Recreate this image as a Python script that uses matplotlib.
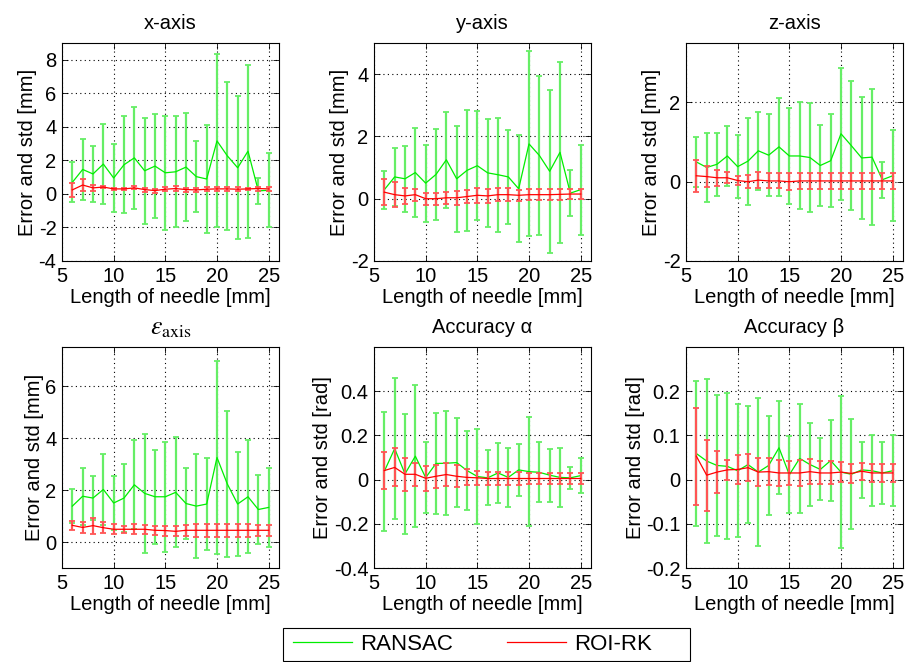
import matplotlib
matplotlib.use("Agg")
import matplotlib.pyplot as plt
from matplotlib.lines import Line2D
from matplotlib.patches import Rectangle

plt.rcParams['font.family'] = ['Liberation Sans', 'DejaVu Sans']
plt.rcParams['mathtext.fontset'] = 'stix'

needle_len = [6, 7, 8, 9, 10, 11, 12, 13, 14, 15, 16, 17, 18, 19, 20, 21, 22, 23, 24, 25]

# x-axis [mm]
x_ransac_mean = [0.69, 1.46, 1.19, 1.78, 0.95, 1.74, 2.15, 1.38, 1.66, 1.26, 1.32, 1.60, 1.03, 0.89, 3.16, 2.27, 1.56, 2.55, 0.18, 0.22]
x_ransac_std = [1.20, 1.80, 1.67, 2.36, 2.00, 2.88, 3.03, 3.17, 3.11, 3.40, 3.30, 3.21, 2.13, 3.23, 5.16, 4.40, 4.27, 5.16, 0.77, 2.21]
x_roi_mean = [0.24, 0.53, 0.36, 0.41, 0.30, 0.30, 0.36, 0.26, 0.20, 0.28, 0.32, 0.26, 0.24, 0.28, 0.30, 0.30, 0.28, 0.30, 0.32, 0.30]
x_roi_std = [0.40, 0.35, 0.17, 0.05, 0.04, 0.08, 0.09, 0.12, 0.12, 0.11, 0.13, 0.12, 0.11, 0.11, 0.13, 0.13, 0.12, 0.08, 0.12, 0.14]

# y-axis [mm]
y_ransac_mean = [0.29, 0.70, 0.64, 0.84, 0.50, 0.78, 1.25, 0.64, 0.91, 1.06, 0.83, 0.77, 0.70, 0.32, 1.76, 1.39, 0.88, 1.49, 0.18, 0.29]
y_ransac_std = [0.61, 0.94, 1.06, 1.43, 1.24, 1.46, 1.54, 1.71, 1.94, 1.75, 1.73, 1.83, 1.52, 1.72, 2.97, 2.54, 2.61, 2.90, 0.73, 1.44]
y_roi_mean = [0.21, 0.13, 0.09, 0.13, 0.00, 0.00, 0.03, 0.03, 0.07, 0.11, 0.09, 0.13, 0.13, 0.11, 0.13, 0.13, 0.13, 0.14, 0.15, 0.15]
y_roi_std = [0.42, 0.40, 0.25, 0.19, 0.19, 0.19, 0.19, 0.22, 0.22, 0.25, 0.23, 0.21, 0.20, 0.17, 0.17, 0.17, 0.17, 0.17, 0.17, 0.17]

# z-axis [mm]
z_ransac_mean = [0.50, 0.36, 0.44, 0.65, 0.38, 0.52, 0.78, 0.67, 0.88, 0.65, 0.65, 0.61, 0.41, 0.53, 1.21, 0.91, 0.60, 0.62, 0.05, 0.15]
z_ransac_std = [0.64, 0.86, 0.80, 0.76, 0.80, 1.10, 0.98, 1.04, 1.23, 1.22, 1.35, 1.37, 1.02, 1.17, 1.67, 1.63, 1.55, 1.72, 0.45, 1.15]
z_roi_mean = [0.15, 0.13, 0.10, 0.10, 0.03, 0.00, 0.04, 0.02, 0.02, 0.00, 0.02, 0.02, 0.02, 0.02, 0.02, 0.02, 0.02, 0.02, 0.02, 0.02]
z_roi_std = [0.40, 0.27, 0.20, 0.14, 0.11, 0.17, 0.20, 0.19, 0.19, 0.21, 0.20, 0.20, 0.20, 0.20, 0.20, 0.20, 0.20, 0.20, 0.20, 0.20]

# epsilon_axis [mm]
e_ransac_mean = [1.38, 1.76, 1.69, 2.02, 1.50, 1.69, 2.20, 1.87, 1.74, 1.74, 1.91, 1.48, 1.38, 1.46, 3.25, 2.23, 1.46, 1.74, 1.25, 1.33]
e_ransac_std = [0.65, 1.09, 0.85, 1.36, 1.05, 1.31, 1.71, 2.30, 1.81, 2.11, 2.11, 1.38, 1.99, 1.78, 3.71, 2.80, 2.00, 2.18, 1.33, 1.51]
e_roi_mean = [0.64, 0.56, 0.63, 0.55, 0.49, 0.49, 0.49, 0.49, 0.45, 0.44, 0.41, 0.45, 0.45, 0.45, 0.45, 0.45, 0.45, 0.45, 0.45, 0.45]
e_roi_std = [0.17, 0.22, 0.31, 0.22, 0.19, 0.14, 0.20, 0.18, 0.17, 0.19, 0.19, 0.21, 0.24, 0.24, 0.24, 0.24, 0.24, 0.24, 0.21, 0.21]

# Accuracy alpha [rad]
a_ransac_mean = [0.038, 0.140, 0.026, 0.106, 0.009, 0.073, 0.074, 0.077, 0.041, 0.014, 0.008, 0.030, 0.010, 0.044, 0.036, 0.033, 0.020, 0.010, 0.008, 0.018]
a_ransac_std = [0.270, 0.320, 0.270, 0.320, 0.160, 0.230, 0.235, 0.200, 0.180, 0.216, 0.125, 0.134, 0.133, 0.118, 0.245, 0.136, 0.120, 0.134, 0.050, 0.080]
a_roi_mean = [0.041, 0.055, 0.024, 0.024, 0.006, 0.015, 0.023, 0.015, 0.010, 0.008, 0.005, 0.005, 0.005, 0.005, 0.005, 0.005, 0.005, 0.005, 0.005, 0.005]
a_roi_std = [0.082, 0.086, 0.075, 0.052, 0.057, 0.052, 0.050, 0.050, 0.036, 0.033, 0.030, 0.030, 0.028, 0.028, 0.027, 0.027, 0.027, 0.027, 0.027, 0.027]

# Accuracy beta [rad]
b_ransac_mean = [0.059, 0.042, 0.032, 0.030, 0.020, 0.034, 0.017, 0.032, 0.072, 0.011, 0.048, 0.034, 0.023, 0.043, 0.017, 0.012, 0.022, 0.020, 0.015, 0.020]
b_ransac_std = [0.165, 0.186, 0.159, 0.165, 0.150, 0.133, 0.168, 0.112, 0.105, 0.087, 0.123, 0.094, 0.070, 0.092, 0.172, 0.124, 0.064, 0.080, 0.070, 0.080]
b_roi_mean = [0.053, 0.010, 0.017, 0.022, 0.023, 0.027, 0.017, 0.018, 0.015, 0.015, 0.015, 0.018, 0.015, 0.015, 0.017, 0.014, 0.019, 0.015, 0.015, 0.015]
b_roi_std = [0.110, 0.080, 0.047, 0.022, 0.033, 0.030, 0.031, 0.030, 0.030, 0.028, 0.029, 0.028, 0.026, 0.026, 0.023, 0.021, 0.019, 0.020, 0.020, 0.020]

titles = ['x-axis', 'y-axis', 'z-axis', r'$\varepsilon_{\mathrm{axis}}$', 'Accuracy α', 'Accuracy β']
ylabels = ['Error and std [mm]'] * 4 + ['Error and std [rad]'] * 2
xlabel = 'Length of needle [mm]'
ylims = [(-4, 9), (-2, 5), (-2, 3.5), (-1, 7.5), (-0.4, 0.6), (-0.2, 0.3)]
yticks = [[-4, -2, 0, 2, 4, 6, 8], [-2, 0, 2, 4], [-2, 0, 2], [0, 2, 4, 6],
          [-0.4, -0.2, 0, 0.2, 0.4], [-0.2, -0.1, 0, 0.1, 0.2]]
xticks = [5, 10, 15, 20, 25]

series = [
    (x_ransac_mean, x_ransac_std, x_roi_mean, x_roi_std),
    (y_ransac_mean, y_ransac_std, y_roi_mean, y_roi_std),
    (z_ransac_mean, z_ransac_std, z_roi_mean, z_roi_std),
    (e_ransac_mean, e_ransac_std, e_roi_mean, e_roi_std),
    (a_ransac_mean, a_ransac_std, a_roi_mean, a_roi_std),
    (b_ransac_mean, b_ransac_std, b_roi_mean, b_roi_std),
]

W, H = 905, 662
fig = plt.figure(figsize=(W / 100, H / 100), dpi=100)

lefts = [62, 374, 686]
axw = 217
rows = [(43, 261), (347, 568)]

FS = 14.5
TFS = 14.5
GREEN = '#00ee00'
RED = '#ff0000'
for i, (gm, gs, rm, rs) in enumerate(series):
    r, c = divmod(i, 3)
    top, bot = rows[r]
    ax = fig.add_axes([lefts[c] / W, 1 - bot / H, axw / W, (bot - top) / H])
    ax.errorbar(needle_len, gm, yerr=gs, color=GREEN, lw=0.9, ecolor='#66ee66',
                elinewidth=1.6, capsize=2.5, capthick=1.3, zorder=3)
    ax.errorbar(needle_len, rm, yerr=rs, color=RED, lw=0.9, ecolor='#ff5555',
                elinewidth=1.6, capsize=2.5, capthick=1.3, zorder=4)
    ax.set_xlim(5, 26)
    ax.set_ylim(*ylims[i])
    ax.set_xticks(xticks)
    ax.set_yticks(yticks[i])
    ax.set_yticklabels([f'{t:g}' for t in yticks[i]])
    ax.grid(True, color='black', linestyle=(0, (1, 3)), linewidth=0.8)
    ax.tick_params(direction='in', top=True, right=True, labelsize=FS, length=4, width=0.6, pad=4)
    for s in ax.spines.values():
        s.set_linewidth(0.8)
    ax.set_xlabel(xlabel, fontsize=FS, labelpad=1.5)
    ax.set_ylabel(ylabels[i], fontsize=FS, labelpad=1)
    if i == 3:
        ax.set_title(titles[i], fontsize=TFS + 4, pad=9)
    else:
        ax.set_title(titles[i], fontsize=TFS, pad=10)

# legend box
fig.add_artist(Rectangle((283 / W, 1 - 661 / H), (690 - 283) / W, (661 - 628) / H,
                         transform=fig.transFigure, facecolor='white', edgecolor='black', lw=0.8))
handles = [Line2D([], [], color=GREEN, lw=0.9), Line2D([], [], color=RED, lw=0.9)]
leg = fig.legend(handles, ['RANSAC', 'ROI-RK'], loc='center left', ncol=2,
                 bbox_to_anchor=(293 / W, 1 - 644.5 / H), fontsize=16,
                 frameon=False, handlelength=2.65, handletextpad=0.36,
                 columnspacing=2.45, borderpad=0, borderaxespad=0)

fig.savefig('out.png', dpi=100)
